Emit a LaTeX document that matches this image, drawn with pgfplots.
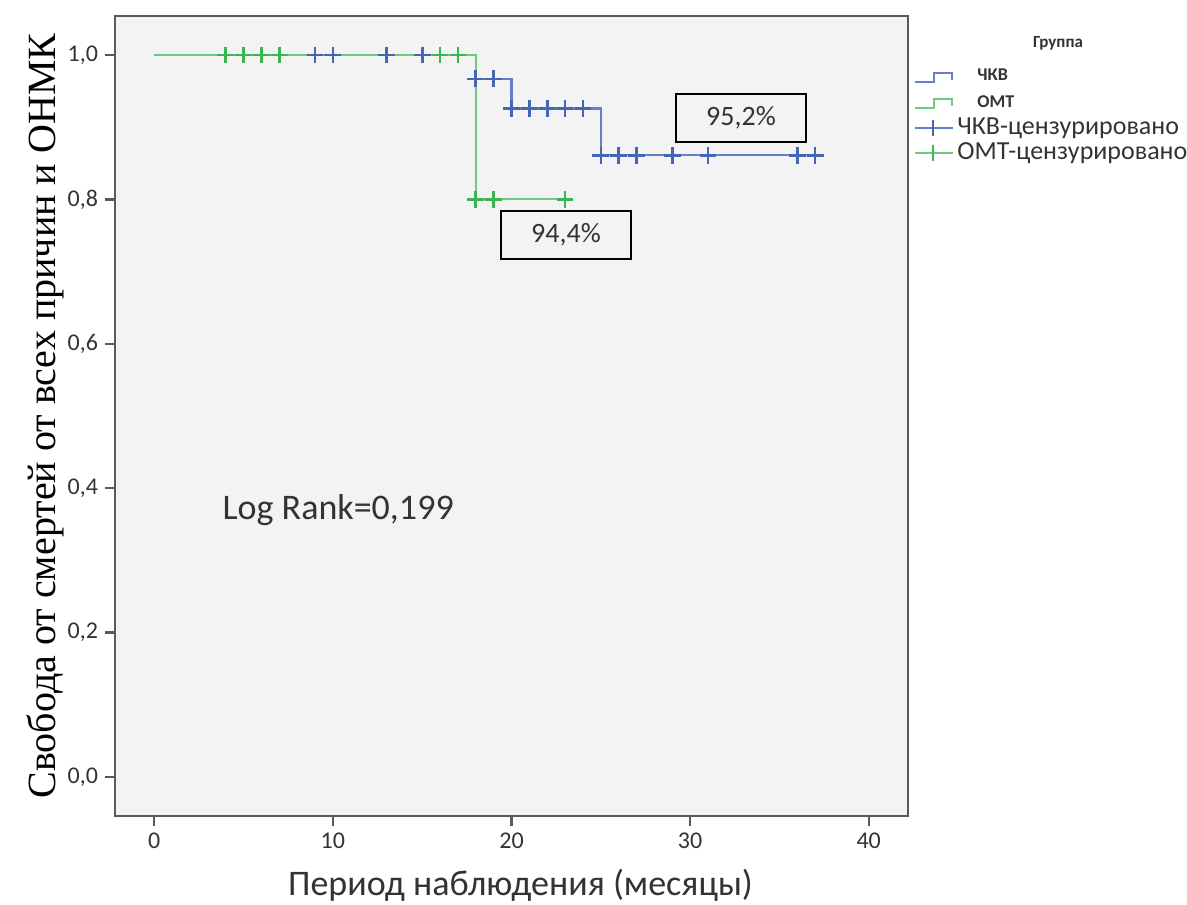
\documentclass[border=0pt]{standalone}
\usepackage{fontspec}
\setmainfont{Carlito}
\newfontfamily\serifru{Liberation Serif}
\usepackage{pgfplots}
\pgfplotsset{compat=1.18}
\definecolor{bgray}{HTML}{F3F3F3}
\definecolor{axgray}{HTML}{5A5A5A}
\definecolor{cblue}{HTML}{6381C8}
\definecolor{cbluem}{HTML}{4565B5}
\definecolor{cgreen}{HTML}{6CCB7E}
\definecolor{cgreenm}{HTML}{3BB455}
\definecolor{txt}{HTML}{333333}
\begin{document}
\begin{tikzpicture}
\begin{axis}[
  name=ax,
  width=396.5pt, height=400pt, scale only axis,
  xmin=-2.2, xmax=42.2, ymin=-0.054, ymax=1.054,
  xtick={0,10,20,30,40},
  ytick={0,0.2,0.4,0.6,0.8,1.0},
  axis background/.style={fill=bgray},
  axis line style={draw=axgray, line width=1.2pt},
  tick style={draw=axgray, line width=1.2pt},
  tick align=outside, tick pos=left,
  major tick length=5pt,
  /pgf/number format/assume math mode=true,
  ticklabel style={font=\fontsize{12}{14}\selectfont, text=txt},
  yticklabel style={/pgf/number format/.cd, fixed, fixed zerofill, precision=1, use comma},
  xticklabel style={/pgf/number format/.cd, fixed, precision=0},
  xlabel={Период наблюдения (месяцы)},
  xlabel style={font=\fontsize{18}{20}\selectfont, text=txt, at={(axis description cs:0.5,0)}, anchor=center, yshift=-34.5pt, xshift=4.5pt},
  ylabel={Свобода от смертей от всех причин и ОНМК},
  ylabel style={font=\serifru\fontsize{20}{22}\selectfont, text=black, at={(axis description cs:0,0.5)}, anchor=center, yshift=35pt},
  clip=false,
]
\addplot[const plot, cblue, line width=1.1pt] coordinates {(0,1) (18,0.967) (20,0.926) (25,0.861) (37,0.861)};
\addplot[const plot, cgreen, line width=1.1pt] coordinates {(0,1) (18,0.8) (23,0.8)};
\addplot[only marks, mark=+, mark size=4.2pt, cbluem, line width=1.3pt] coordinates {
 (9,1) (10,1) (13,1) (15,1)
 (18,0.967) (19,0.967)
 (20,0.926) (21,0.926) (22,0.926) (23,0.926) (24,0.926)
 (25,0.861) (26,0.861) (27,0.861) (29,0.861) (31,0.861) (36,0.861) (37,0.861)};
\addplot[only marks, mark=+, mark size=4.2pt, cgreenm, line width=1.3pt] coordinates {
 (4,1) (5,1) (6,1) (7,1) (16,1) (17,1)
 (18,0.8) (19,0.8) (23,0.8)};
\node[draw=black, line width=1pt, minimum width=65pt, minimum height=24pt, inner sep=0pt, font=\fontsize{14}{16}\selectfont, text=txt] at (axis cs:32.85,0.913) {95,2\%};
\node[draw=black, line width=1pt, minimum width=65pt, minimum height=24pt, inner sep=0pt, font=\fontsize{14}{16}\selectfont, text=txt] at (axis cs:23.05,0.751) {94,4\%};
\node[anchor=west, inner sep=0pt, font=\fontsize{18}{20}\selectfont, text=txt] at (axis cs:3.8,0.37) {Log Rank=0,199};
\end{axis}
\begin{scope}[shift={(ax.north east)}]
\node[font=\bfseries\fontsize{8.5}{10}\selectfont, text=txt] at (75pt,-13.5pt) {Группа};
\draw[cblue, line width=0.8pt] (3.5pt,-33pt) -- (13pt,-33pt) -- (13pt,-28.5pt) -- (22pt,-28.5pt) -- (22pt,-32pt);
\node[anchor=west, inner sep=0pt, font=\bfseries\fontsize{9}{10}\selectfont, text=txt] at (34.5pt,-29.5pt) {ЧКВ};
\draw[cgreen, line width=0.8pt] (3.5pt,-46pt) -- (13pt,-46pt) -- (13pt,-41.5pt) -- (22pt,-41.5pt) -- (22pt,-45pt);
\node[anchor=west, inner sep=0pt, font=\bfseries\fontsize{9}{10}\selectfont, text=txt] at (34.5pt,-43pt) {ОМТ};
\draw[cblue, line width=0.8pt] (3.5pt,-56pt) -- (22.5pt,-56pt);
\draw[cbluem, line width=0.8pt] (12.5pt,-60pt) -- (12.5pt,-52pt);
\node[anchor=west, inner sep=0pt, font=\fontsize{13}{15}\selectfont, text=txt] at (24.5pt,-56pt) {ЧКВ-цензурировано};
\draw[cgreen, line width=0.8pt] (3.5pt,-68.5pt) -- (22.5pt,-68.5pt);
\draw[cgreenm, line width=0.8pt] (12.5pt,-72.5pt) -- (12.5pt,-64.5pt);
\node[anchor=west, inner sep=0pt, font=\fontsize{13}{15}\selectfont, text=txt] at (24.5pt,-68.5pt) {ОМТ-цензурировано};
\end{scope}
\pgfresetboundingbox
\useasboundingbox ([xshift=-57.5pt,yshift=-44pt]ax.south west) rectangle ([xshift=536pt,yshift=8pt]ax.north west);
\end{tikzpicture}
\end{document}
